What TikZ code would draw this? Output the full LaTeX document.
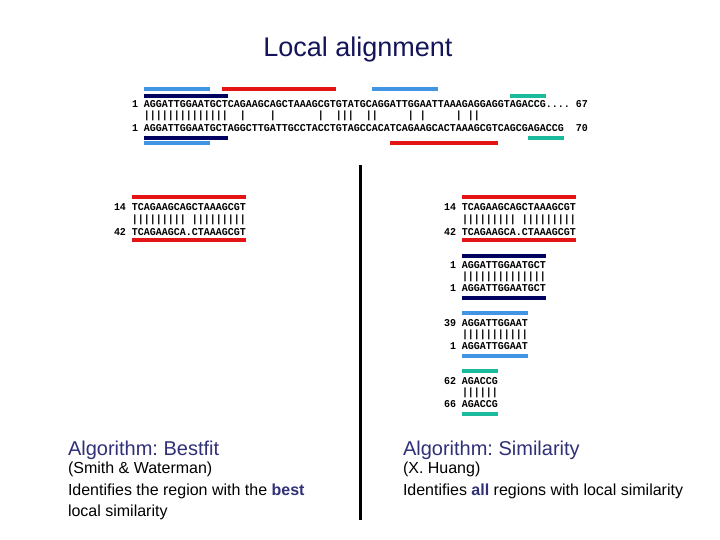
\documentclass[tikz,border=0pt]{standalone}
\usepackage{fontspec}
\setmainfont{Liberation Sans}
\newfontfamily\seqfont[FakeStretch=0.952]{Liberation Mono}
\definecolor{titlenavy}{RGB}{20,20,90}
\definecolor{headblue}{RGB}{48,48,120}
\definecolor{hlblue}{RGB}{66,148,228}
\definecolor{hlred}{RGB}{228,20,20}
\definecolor{hlnavy}{RGB}{0,0,96}
\definecolor{hlteal}{RGB}{26,188,156}
\frenchspacing

\begin{document}
\begin{tikzpicture}[
        x=1pt, y=-1pt,
        every node/.style={inner sep=0pt, outer sep=0pt},
        seqtext/.style={anchor=west, font=\seqfont\bfseries\fontsize{10.5}{12}\selectfont},
        segbar/.style={line width=4pt},
        heading/.style={anchor=base west, text=headblue, font=\fontsize{20}{24}\selectfont},
        body/.style={anchor=base west, font=\fontsize{16}{19}\selectfont},
        divider/.style={line width=3pt}
    ]
    \path[fill=white, use as bounding box] (0,0) rectangle (720,540);
%
    % Title
    \node[anchor=base, text=titlenavy, font=\fontsize{27}{32}\selectfont] (title) at (358,57) {Local alignment};
%
    % Full alignment
    \node[seqtext] (top_seq) at (132,104.5) {1 AGGATTGGAATGCTCAGAAGCAGCTAAAGCGTGTATGCAGGATTGGAATTAAAGAGGAGGTAGACCG.... 67};
    \node[seqtext] (top_match) at (132,116) {~~||||||||||||||~~|~~~~|~~~~~~~|~~|||~~||~~~~~|~|~~~~~|~||};
    \node[seqtext] (top_ref) at (132,128) {1 AGGATTGGAATGCTAGGCTTGATTGCCTACCTGTAGCCACATCAGAAGCACTAAAGCGTCAGCGAGACCG~~70};
%
    \draw[segbar, hlblue] (144,89.5) -- (210,89.5);
    \draw[segbar, hlred] (222,89.5) -- (336,89.5);
    \draw[segbar, hlblue] (372,89.5) -- (438,89.5);
    \draw[segbar, hlnavy] (144,96) -- (228,96);
    \draw[segbar, hlteal] (510,96) -- (546,96);
    \draw[segbar, hlnavy] (144,138) -- (228,138);
    \draw[segbar, hlteal] (528,138) -- (564,138);
    \draw[segbar, hlblue] (144,143.5) -- (210,143.5);
    \draw[segbar, hlred] (390,143.5) -- (498,143.5);
%
    % Separator
    \draw[divider] (360,165) -- (360,520);
%
    % Bestfit side
    \draw[segbar, hlred] (132,197) -- (246,197);
    \node[seqtext] (bf_seq) at (114,207.5) {14 TCAGAAGCAGCTAAAGCGT};
    \node[seqtext] (bf_match) at (114,220) {~~~|||||||||~|||||||||};
    \node[seqtext] (bf_ref) at (114,232.5) {42 TCAGAAGCA.CTAAAGCGT};
    \draw[segbar, hlred] (132,240) -- (246,240);
%
    % Similarity side
    \draw[segbar, hlred] (462,197) -- (576,197);
    \node[seqtext] (sim_a_seq) at (444,207.5) {14 TCAGAAGCAGCTAAAGCGT};
    \node[seqtext] (sim_a_match) at (444,220) {~~~|||||||||~|||||||||};
    \node[seqtext] (sim_a_ref) at (444,232.5) {42 TCAGAAGCA.CTAAAGCGT};
    \draw[segbar, hlred] (462,240) -- (576,240);
%
    \draw[segbar, hlnavy] (462,255.5) -- (546,255.5);
    \node[seqtext] (sim_b_seq) at (444,265.5) {~1 AGGATTGGAATGCT};
    \node[seqtext] (sim_b_match) at (444,277) {~~~||||||||||||||};
    \node[seqtext] (sim_b_ref) at (444,288.5) {~1 AGGATTGGAATGCT};
    \draw[segbar, hlnavy] (462,298) -- (546,298);
%
    \draw[segbar, hlblue] (462,313) -- (528,313);
    \node[seqtext] (sim_c_seq) at (444,323.5) {39 AGGATTGGAAT};
    \node[seqtext] (sim_c_match) at (444,335) {~~~|||||||||||};
    \node[seqtext] (sim_c_ref) at (444,346.5) {~1 AGGATTGGAAT};
    \draw[segbar, hlblue] (462,356) -- (528,356);
%
    \draw[segbar, hlteal] (462,371) -- (498,371);
    \node[seqtext] (sim_d_seq) at (444,381.5) {62 AGACCG};
    \node[seqtext] (sim_d_match) at (444,393) {~~~||||||};
    \node[seqtext] (sim_d_ref) at (444,404.5) {66 AGACCG};
    \draw[segbar, hlteal] (462,414) -- (498,414);
%
    % Captions
    \node[heading] (bf_head) at (68,455) {Algorithm: Bestfit};
    \node[body] (bf_who) at (68,473.5) {(Smith \& Waterman)};
    \node[body] (bf_what) at (68,495) {Identifies the region with the \textbf{\color{headblue}best}};
    \node[body] (bf_what2) at (68,516) {local similarity};
%
    \node[heading] (sim_head) at (403,455) {Algorithm: Similarity};
    \node[body] (sim_who) at (403,473.5) {(X. Huang)};
    \node[body] (sim_what) at (403,495) {Identifies \textbf{\color{headblue}all} regions with local similarity};
%
    \end{tikzpicture}
\end{document}
